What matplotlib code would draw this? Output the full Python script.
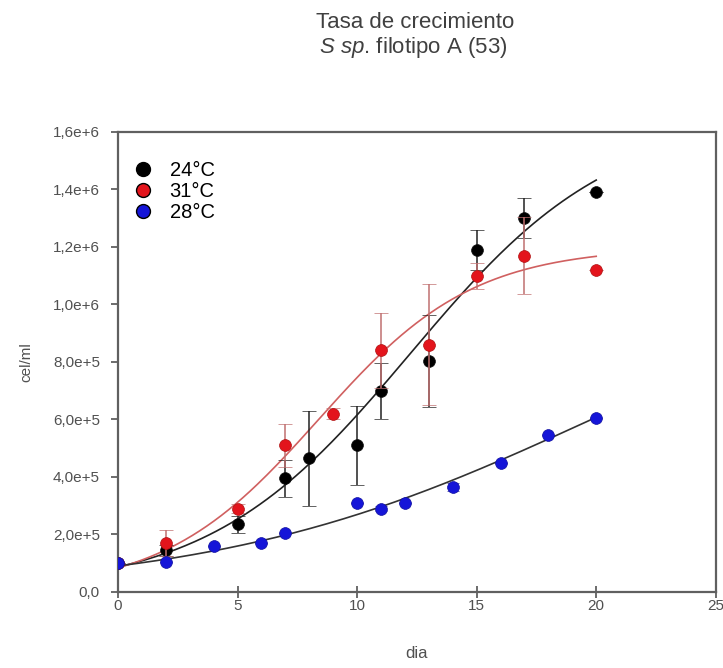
import numpy as np
import matplotlib
matplotlib.use('Agg')
from matplotlib import pyplot as plt
from matplotlib.lines import Line2D
from matplotlib.ticker import FixedLocator

plt.rcParams['font.family'] = ['Liberation Sans', 'DejaVu Sans']
plt.rcParams['mathtext.fontset'] = 'custom'
plt.rcParams['mathtext.it'] = 'Liberation Sans:italic'
plt.rcParams['mathtext.rm'] = 'Liberation Sans'

# growth data, cells/ml
dias_24 = [0, 2, 5, 7, 8, 10, 11, 13, 15, 17, 20]
cel_24 = [1.0e5, 1.45e5, 2.35e5, 3.95e5, 4.65e5, 5.1e5, 7.0e5, 8.05e5, 1.19e6, 1.30e6, 1.39e6]
err_24 = [0, 0.2e5, 0.3e5, 0.65e5, 1.65e5, 1.37e5, 0.97e5, 1.6e5, 0.7e5, 0.7e5, 0]

dias_31 = [0, 2, 5, 7, 9, 11, 13, 15, 17, 20]
cel_31 = [1.0e5, 1.7e5, 2.9e5, 5.1e5, 6.2e5, 8.4e5, 8.6e5, 1.10e6, 1.17e6, 1.12e6]
err_31 = [0, 0.45e5, 0.15e5, 0.75e5, 0.2e5, 1.3e5, 2.1e5, 0.45e5, 1.35e5, 0]

dias_28 = [0, 2, 4, 6, 7, 10, 11, 12, 14, 16, 18, 20]
cel_28 = [1.0e5, 1.04e5, 1.6e5, 1.72e5, 2.05e5, 3.1e5, 2.9e5, 3.1e5, 3.65e5, 4.5e5, 5.45e5, 6.05e5]
err_28 = [0, 0, 0, 0, 0, 0, 0.1e5, 0, 0.15e5, 0, 0, 0]

# sigmoid fits y = a / (1 + exp(-(x - x0) / b)), a in cells/ml
fit_24 = (1.66e6, 12.23, 4.22)
fit_31 = (1.20e6, 8.39, 3.24)
fit_28 = (1.20e6, 19.8, 7.9)

yticks = [0, 2e5, 4e5, 6e5, 8e5, 1.0e6, 1.2e6, 1.4e6, 1.6e6]
ytick_labels = ['0,0', '2,0e+5', '4,0e+5', '6,0e+5', '8,0e+5', '1,0e+6', '1,2e+6', '1,4e+6', '1,6e+6']
xticks = [0, 5, 10, 15, 20, 25]


def sigmoid(x, p):
    a, x0, b = p
    return a / (1 + np.exp(-(x - x0) / b))


black = '#000000'
red = '#e3141c'
blue = '#1515d8'
grey = '#505050'

fig = plt.figure(figsize=(7.23, 6.68), dpi=100)
ax = fig.add_axes([0.1632, 0.1138, 0.8268, 0.6886])

xs = np.linspace(0, 20, 200)
ax.plot(xs, sigmoid(xs, fit_24), color='#222222', lw=1.2, zorder=2)
ax.plot(xs, sigmoid(xs, fit_31), color='#d06060', lw=1.2, zorder=2)
ax.plot(xs, sigmoid(xs, fit_28), color='#333333', lw=1.2, zorder=2)

ax.errorbar(dias_24, cel_24, yerr=err_24, fmt='o', ms=8.5, mfc=black, mec='#111111',
            mew=0.5, ecolor='#222222', elinewidth=1.1, capsize=5, capthick=1.1, zorder=3)
ax.errorbar(dias_31, cel_31, yerr=err_31, fmt='o', ms=8.5, mfc=red, mec='#b01010',
            mew=0.5, ecolor='#c07070', elinewidth=1.1, capsize=5, capthick=1.1, zorder=4)
ax.errorbar(dias_28, cel_28, yerr=err_28, fmt='o', ms=8.5, mfc=blue, mec='#1010a0',
            mew=0.5, ecolor='#3030a0', elinewidth=1.1, capsize=4, capthick=1.1, zorder=4)

ax.set_xlim(0, 25)
ax.set_ylim(0, 1.6e6)
ax.xaxis.set_major_locator(FixedLocator(xticks))
ax.yaxis.set_major_locator(FixedLocator(yticks))
ax.set_yticklabels(ytick_labels)

for s in ax.spines.values():
    s.set_color('#606060')
    s.set_linewidth(1.6)
ax.tick_params(axis='x', direction='inout', length=8, width=1.3, color='#606060',
               labelsize=11, labelcolor=grey, pad=1, top=False)
ax.tick_params(axis='y', direction='out', length=5, width=1.3, color='#606060',
               labelsize=11, labelcolor=grey, pad=8, right=False)

ax.set_xlabel('dia', fontsize=12, color=grey, labelpad=24)
ax.set_ylabel('cel/ml', fontsize=11, color=grey, labelpad=14)

handles = [Line2D([], [], ls='none', marker='o', ms=10, mfc=c, mec='black', mew=1.0)
           for c in (black, red, blue)]
ax.legend(handles, ['24°C', '31°C', '28°C'], loc='upper left', bbox_to_anchor=(-0.018, 0.99),
          frameon=False, fontsize=14.5, handletextpad=0.7, labelspacing=0.1,
          handlelength=1.2, borderaxespad=0.8)

fig.text(0.574, 0.967, 'Tasa de crecimiento', ha='center', va='center', fontsize=16, color='#404040')
fig.text(0.572, 0.929, r'$S\ sp$. filotipo A (53)', ha='center', va='center', fontsize=16, color='#404040')

fig.savefig('out.png', dpi=100)
